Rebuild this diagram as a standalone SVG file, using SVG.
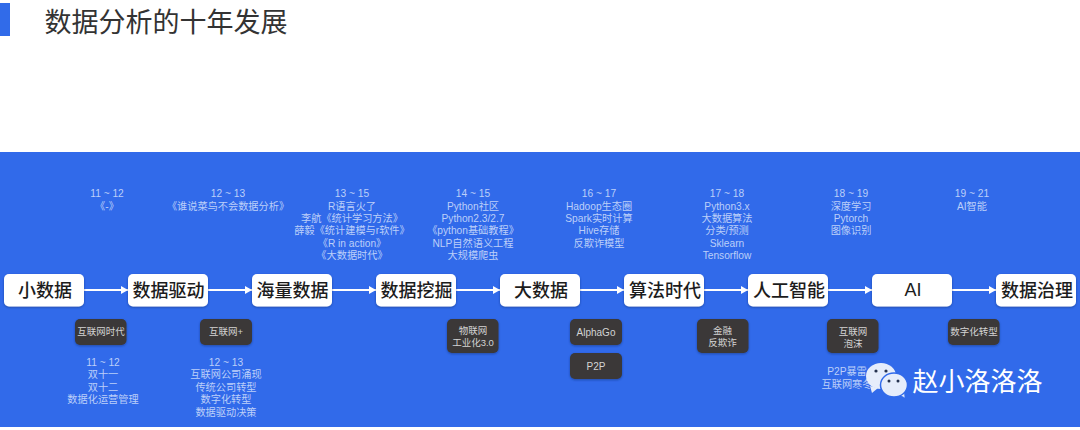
<svg xmlns="http://www.w3.org/2000/svg" width="1080" height="430" viewBox="0 0 1080 430">
<style>
text{font-family:"Liberation Sans","Noto Sans CJK SC",sans-serif;text-anchor:middle}
.n rect{fill:#fff;filter:url(#s)}
.n text{font-size:18px;fill:#1c1c1c;font-weight:500}
.d rect{fill:#3a3838;filter:url(#s)}
.d text{font-size:9.500px;fill:#d4d4d4}
.t{font-size:10.200px;fill:#bccff9}
.c line{stroke:#fff;stroke-width:2;marker-end:url(#a)}
</style>
<defs>
<filter id="s" x="-10%" y="-15%" width="120%" height="135%"><feDropShadow dx="0" dy="1" stdDeviation="1.200" flood-color="#12306f" flood-opacity=".55"/></filter>
<marker id="a" markerUnits="userSpaceOnUse" markerWidth="9" markerHeight="10" refX="7" refY="5" orient="auto"><path d="M0,1L7,5L0,9Z" fill="#fff"/></marker>
</defs>
<rect width="1080" height="430" fill="#fff"/>
<rect x="0" y="3" width="10" height="33" fill="#316be9"/>
<text x="166" y="32" style="font-size:27px;fill:#333">数据分析的十年发展</text>
<rect x="0" y="152" width="1080" height="275" fill="#316aea"/>
<g class="c">
<line x1="84" y1="290" x2="128" y2="290"/>
<line x1="208" y1="290" x2="252" y2="290"/>
<line x1="332" y1="290" x2="376" y2="290"/>
<line x1="456" y1="290" x2="500" y2="290"/>
<line x1="580" y1="290" x2="624" y2="290"/>
<line x1="704" y1="290" x2="748" y2="290"/>
<line x1="828" y1="290" x2="872" y2="290"/>
<line x1="952" y1="290" x2="996" y2="290"/>
</g>
<g id="n1" class="n"><rect x="4" y="274" width="80" height="32.500" rx="5"/><text x="45" y="297">小数据</text></g>
<g id="n2" class="n"><rect x="128" y="274" width="80" height="32.500" rx="5"/><text x="168.500" y="297">数据驱动</text></g>
<g id="n3" class="n"><rect x="252" y="274" width="80" height="32.500" rx="5"/><text x="292.500" y="297">海量数据</text></g>
<g id="n4" class="n"><rect x="376" y="274" width="80" height="32.500" rx="5"/><text x="416.500" y="297">数据挖掘</text></g>
<g id="n5" class="n"><rect x="500" y="274" width="80" height="32.500" rx="5"/><text x="541" y="297">大数据</text></g>
<g id="n6" class="n"><rect x="624" y="274" width="80" height="32.500" rx="5"/><text x="665" y="297">算法时代</text></g>
<g id="n7" class="n"><rect x="748" y="274" width="80" height="32.500" rx="5"/><text x="789" y="297">人工智能</text></g>
<g id="n8" class="n"><rect x="872" y="274" width="80" height="32.500" rx="5"/><text x="913" y="296">AI</text></g>
<g id="n9" class="n"><rect x="996" y="274" width="80" height="32.500" rx="5"/><text x="1037" y="297">数据治理</text></g>

<g id="d1" class="d"><rect x="75" y="319" width="51.500" height="26" rx="5"/><text x="101" y="335">互联网时代</text></g>
<g id="d2" class="d"><rect x="200" y="319" width="52" height="26" rx="5"/><text x="226" y="335">互联网+</text></g>
<g id="d3" class="d"><rect x="447" y="319" width="51.500" height="34" rx="5"/><text x="473" y="334">物联网</text><text x="473" y="346">工业化3.0</text></g>
<g id="d4" class="d"><rect x="570" y="319" width="52" height="26" rx="5"/><text x="596" y="336" style="font-size:10px">AlphaGo</text></g>
<g id="d5" class="d"><rect x="570" y="353" width="52" height="26" rx="5"/><text x="596" y="370" style="font-size:10px">P2P</text></g>
<g id="d6" class="d"><rect x="697" y="319" width="51.500" height="34" rx="5"/><text x="722.500" y="334">金融</text><text x="722.500" y="346">反欺诈</text></g>
<g id="d7" class="d"><rect x="827" y="319" width="51.500" height="34" rx="5"/><text x="853" y="335">互联网</text><text x="853" y="347">泡沫</text></g>
<g id="d8" class="d"><rect x="948" y="319" width="51.500" height="26" rx="5"/><text x="974" y="335">数字化转型</text></g>

<g class="t">
<text x="107" y="197">11 ~ 12</text><text x="107" y="210">《-》</text>
<text x="228" y="197">12 ~ 13</text><text x="228" y="210">《谁说菜鸟不会数据分析》</text>
<text x="352" y="197">13 ~ 15</text><text x="352" y="210">R语言火了</text><text x="352" y="222">李航《统计学习方法》</text><text x="352" y="234">薛毅《统计建模与r软件》</text><text x="352" y="247">《R in action》</text><text x="352" y="259">《大数据时代》</text>
<text x="473" y="197">14 ~ 15</text><text x="473" y="210">Python社区</text><text x="473" y="222">Python2.3/2.7</text><text x="473" y="234">《python基础教程》</text><text x="473" y="247">NLP自然语义工程</text><text x="473" y="259">大规模爬虫</text>
<text x="599" y="197">16 ~ 17</text><text x="599" y="210">Hadoop生态圈</text><text x="599" y="222">Spark实时计算</text><text x="599" y="234">Hive存储</text><text x="599" y="247">反欺诈模型</text>
<text x="727" y="197">17 ~ 18</text><text x="727" y="210">Python3.x</text><text x="727" y="222">大数据算法</text><text x="727" y="234">分类/预测</text><text x="727" y="247">Sklearn</text><text x="727" y="259">Tensorflow</text>
<text x="851" y="197">18 ~ 19</text><text x="851" y="210">深度学习</text><text x="851" y="222">Pytorch</text><text x="851" y="234">图像识别</text>
<text x="972" y="197">19 ~ 21</text><text x="972" y="210">AI智能</text>
<text x="103" y="366">11 ~ 12</text><text x="103" y="378">双十一</text><text x="103" y="391">双十二</text><text x="103" y="403">数据化运营管理</text>
<text x="226" y="366">12 ~ 13</text><text x="226" y="378">互联网公司涌现</text><text x="226" y="391">传统公司转型</text><text x="226" y="403">数字化转型</text><text x="226" y="416">数据驱动决策</text>
<text x="847" y="375">P2P暴雷</text><text x="847" y="388">互联网寒冬</text>
</g>
<g id="wm">
<path d="M870,386L872,393L878,388Z" fill="#e6edfb"/>
<ellipse cx="881" cy="376" rx="15" ry="13" fill="#e6edfb"/>
<path d="M904,391L905,398L898,394Z" fill="#e6edfb" stroke="#316aea" stroke-width=".5"/>
<ellipse cx="894" cy="385" rx="13.500" ry="12" fill="#e6edfb" stroke="#316aea" stroke-width="1.500"/>
<circle cx="876" cy="371" r="1.600" fill="#25324f"/><circle cx="886" cy="371" r="1.600" fill="#25324f"/>
<circle cx="889" cy="381" r="1.500" fill="#25324f"/><circle cx="898" cy="381" r="1.500" fill="#25324f"/>
<text x="977.500" y="391" style="font-size:26px;fill:#fff">赵小洛洛洛</text>
</g>
</svg>
